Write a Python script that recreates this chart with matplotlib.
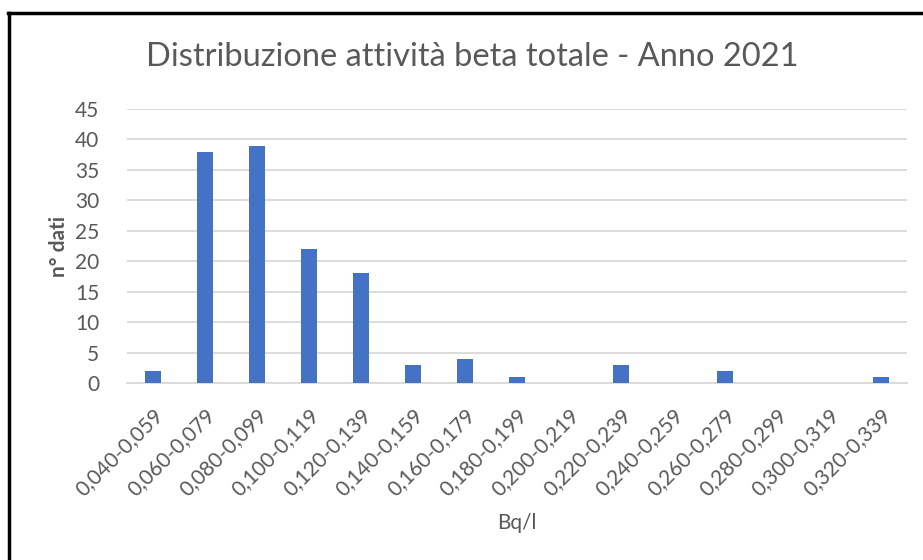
import numpy as np
import matplotlib.pyplot as plt
from matplotlib.lines import Line2D

# class intervals (Bq/l) and counts
classi = ['0,040-0,059', '0,060-0,079', '0,080-0,099', '0,100-0,119', '0,120-0,139',
          '0,140-0,159', '0,160-0,179', '0,180-0,199', '0,200-0,219', '0,220-0,239',
          '0,240-0,259', '0,260-0,279', '0,280-0,299', '0,300-0,319', '0,320-0,339']
n_dati = [2, 38, 39, 22, 18, 3, 4, 1, 0, 3, 0, 2, 0, 0, 1]
yticks = [0, 5, 10, 15, 20, 25, 30, 35, 40, 45]

plt.rcParams['font.family'] = ['Lato', 'DejaVu Sans']
grey = '#595959'

fig = plt.figure(figsize=(9.23, 5.60), dpi=100)
ax = fig.add_axes([0.1376, 0.316, 0.845, 0.4894])

x = np.arange(len(classi))
ax.bar(x, n_dati, width=0.31, color='#4472C4', zorder=3)

ax.set_xlim(-0.5, len(classi) - 0.5)
ax.set_ylim(0, 45)
ax.set_yticks(yticks)
ax.set_xticks(x)
ax.set_xticklabels(classi, rotation=45, ha='right', rotation_mode='anchor')
ax.grid(axis='y', color='#D9D9D9', linewidth=1.3, zorder=0)
for s in ['top', 'right', 'left']:
    ax.spines[s].set_visible(False)
ax.spines['bottom'].set_color('#D9D9D9')
ax.spines['bottom'].set_linewidth(1.3)
ax.tick_params(axis='both', length=0, colors=grey, labelsize=15)
ax.tick_params(axis='y', pad=20)
ax.tick_params(axis='x', pad=16)

ax.set_ylabel('n° dati', fontsize=15, fontweight='bold', color=grey, labelpad=4)
fig.text(0.56, 0.066, 'Bq/l', fontsize=15, color=grey, ha='center', va='center')
fig.text(0.512, 0.898, 'Distribuzione attività beta totale - Anno 2021',
         fontsize=23.5, color=grey, ha='center', va='center')

# frame around the chart (top and left edges visible)
fig.add_artist(Line2D([0.009, 1.0], [1 - 13/560, 1 - 13/560], color='black', linewidth=2.5,
                      transform=fig.transFigure))
fig.add_artist(Line2D([0.0098, 0.0098], [0, 1 - 13/560], color='black', linewidth=2.5,
                      transform=fig.transFigure))

fig.savefig('out.png', dpi=100)
